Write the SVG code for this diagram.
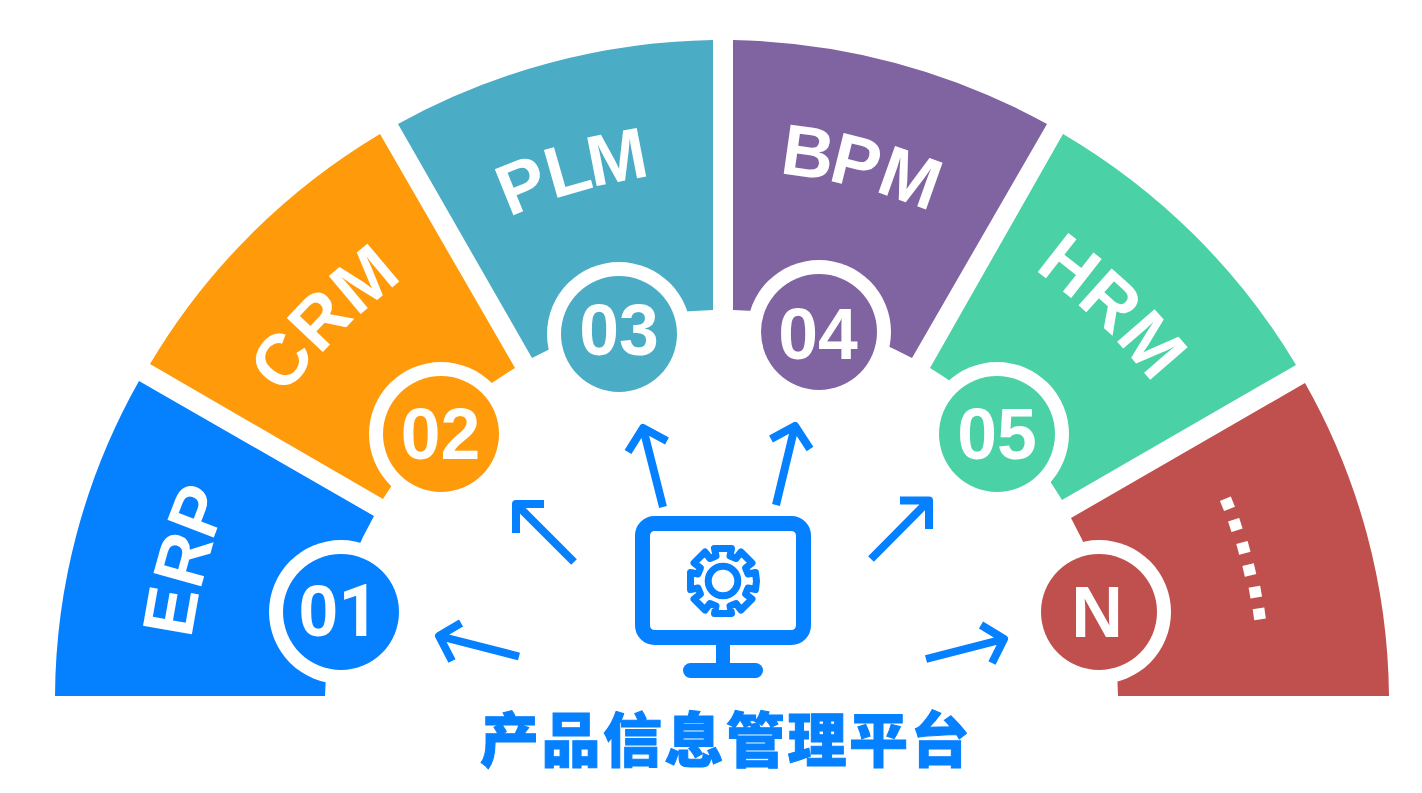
<svg xmlns="http://www.w3.org/2000/svg" width="1422" height="793" viewBox="0 0 1422 793">
<style>
.lbl{font-family:"Liberation Sans",Arial,sans-serif;font-weight:700;font-size:72px;fill:#fff}
.num{font-family:"Liberation Sans",Arial,sans-serif;font-weight:700;font-size:71.500px;fill:#fff;text-anchor:middle}
.ring{fill:#fff}
.arrow{fill:none;stroke:#0580ff;stroke-width:8;stroke-linejoin:round;stroke-linecap:butt}
.c1{fill:#0580ff}.c2{fill:#ff9a0a}.c3{fill:#4bacc6}.c4{fill:#8064a2}.c5{fill:#4ad1a5}.c6{fill:#c0504d}
.title{font-family:"Noto Sans CJK SC","Liberation Sans",sans-serif;font-weight:900;font-size:59px;letter-spacing:2.500px;fill:#0580ff;stroke:#0580ff;stroke-width:1;text-anchor:middle}
</style>
<rect width="1422" height="793" fill="#fff"/>
<g id="node-erp">
<path class="c1" d="M55 696A667 656 0 0 1 139 381L374 516A397 386 0 0 0 325 696Z"/>
<circle class="ring" cx="341" cy="612" r="72"/><circle class="c1" cx="341" cy="612" r="58"/>
<text class="lbl" x="191 200 212" y="639 591 542" rotate="-80 -74.5 -69">ERP</text>
<text class="num" x="339" y="636">0<tspan style="font-family:Roboto,sans-serif">1</tspan></text>
</g>
<g id="node-crm">
<path class="c2" d="M150 364A667 656 0 0 1 380 134L515 368A397 386 0 0 0 383 499Z"/>
<circle class="ring" cx="441" cy="434" r="72"/><circle class="c2" cx="441" cy="434" r="58"/>
<text class="lbl" x="286 319.500 357" y="396 355.600 317" rotate="-54 -46.600 -40">CRM</text>
<text class="num" x="440.500" y="459">02</text>
</g>
<g id="node-plm">
<path class="c3" d="M398 124A667 656 0 0 1 713 40V310A397 386 0 0 0 532 358Z"/>
<circle class="ring" cx="619" cy="334" r="72"/><circle class="c3" cx="619" cy="334" r="58"/>
<text class="lbl" x="509 553 592" y="217 199 187" rotate="-22 -16 -11">PLM</text>
<text class="num" x="619" y="355">03</text>
</g>
<g id="node-bpm">
<path class="c4" d="M733 40A667 656 0 0 1 1047 124L912 358A397 386 0 0 0 733 310Z"/>
<circle class="ring" cx="819" cy="332" r="72"/><circle class="c4" cx="819" cy="332" r="58"/>
<text class="lbl" x="779 827 874" y="173 180 191" rotate="8 14 19.500">BPM</text>
<text class="num" x="818" y="359">04</text>
</g>
<g id="node-hrm">
<path class="c5" d="M1063 134A667 656 0 0 1 1296 365L1062 500A397 386 0 0 0 930 368Z"/>
<circle class="ring" cx="997" cy="434" r="72"/><circle class="c5" cx="997" cy="434" r="58"/>
<text class="lbl" x="1034 1075 1114" y="269 302 338" rotate="38 42 49">HRM</text>
<text class="num" x="997" y="459">05</text>
</g>
<g id="node-n">
<path class="c6" d="M1305 383A667 656 0 0 1 1389 696H1118A397 386 0 0 0 1071 518Z"/>
<circle class="ring" cx="1099" cy="612" r="72"/><circle class="c6" cx="1099" cy="612" r="58"/>
<text class="lbl" style="font-size:78px" x="1217.900 1226.500 1234.900 1241.200 1247.700 1252.100" y="496 516.400 539 560.700 582.400 604.100" rotate="68 72 75 77 80 82">......</text>
<text class="num" x="1097" y="637">N</text>
</g>
<g id="connectors">
<path class="arrow" d="M519 656.500L439 636M461 623L439 636L452 661"/>
<path class="arrow" d="M574 562L516 504M544 504H516V533"/>
<path class="arrow" d="M663 507L643 428M667 441L643 428L628 452"/>
<path class="arrow" d="M776 505L795 426M771 439L795 426L810 449"/>
<path class="arrow" d="M871 559L929 500.500M900 500.500H929V529"/>
<path class="arrow" d="M926 659L1004 639M981 625L1004 639L992 663"/>
</g>
<g id="node-platform">
<rect x="642.500" y="523.500" width="161" height="114" rx="12" fill="#fff" stroke="#0580ff" stroke-width="15"/>
<rect x="716" y="644" width="14" height="24" fill="#0580ff"/>
<rect x="683" y="663" width="80" height="15" rx="7.500" fill="#0580ff"/>
<g transform="translate(723 581)" fill="none" stroke="#0580ff" stroke-width="7" stroke-linejoin="round">
<circle r="14.800"/>
<polygon points="-7,-25 -8.500,-32.500 8.500,-32.500 7,-25 13,-22.500 18,-29 29,-18 22.500,-13 25,-7 32.500,-8.500 33.500,0 32.500,8.500 25,7 22.500,13 29,18 18,29 13,22.500 7,25 8.500,32.500 -8.500,32.500 -7,25 -13,22.500 -18,29 -29,18 -22.500,13 -25,7 -32.500,8.500 -32.500,-8.500 -25,-7 -22.500,-13 -29,-18 -18,-29 -13,-22.500"/>
</g>
<text class="title" x="726" y="762">产品信息管理平台</text>
</g>
</svg>
